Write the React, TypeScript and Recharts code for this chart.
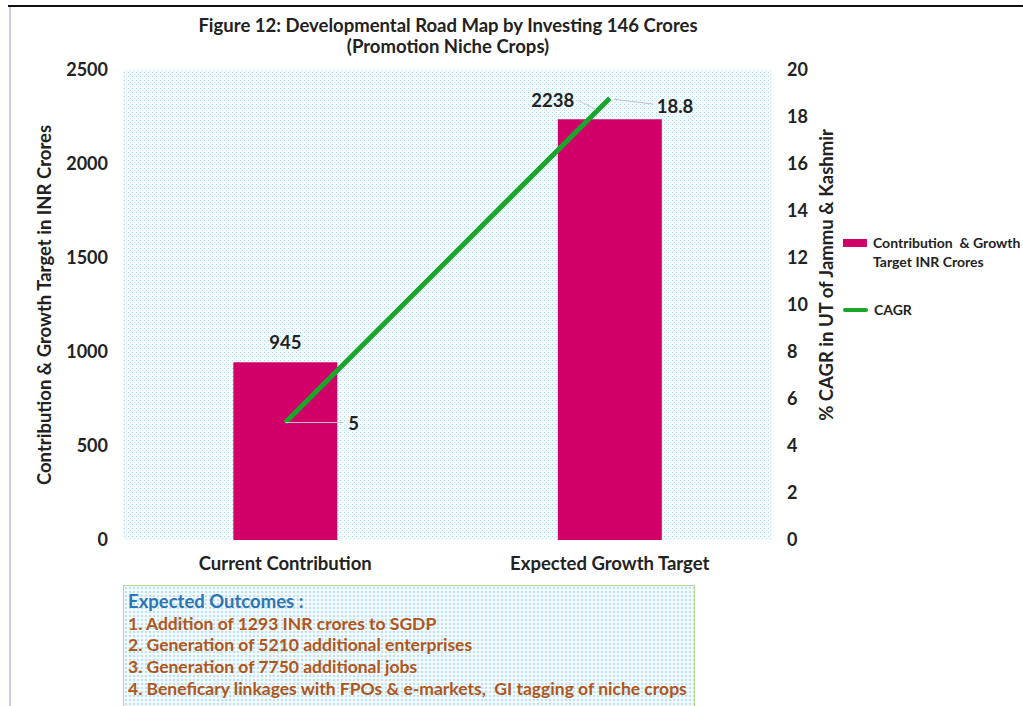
import React from "react";
import { ComposedChart, Bar, Line, XAxis, YAxis, CartesianGrid, LabelList } from "recharts";

const categories = ["Current Contribution", "Expected Growth Target"];
const contribution = [945, 2238];
const cagr = [5, 18.8];
const leftTicks = [0, 500, 1000, 1500, 2000, 2500];
const rightTicks = [0, 2, 4, 6, 8, 10, 12, 14, 16, 18, 20];
const outcomes = [
  "1. Addition of 1293 INR crores to SGDP",
  "2. Generation of 5210 additional enterprises",
  "3. Generation of 7750 additional jobs",
  "4. Beneficary linkages with FPOs & e-markets,  GI tagging of niche crops",
];

const data = categories.map((c, i) => ({ name: c, contribution: contribution[i], cagr: cagr[i] }));

const FONT = "Lato, 'Open Sans', sans-serif";
const BAR = "#d00068";
const GREEN = "#19a62a";

const BarLabel = (props: any) => {
  const { x, y, width, value, index } = props;
  const cx = x + width / 2;
  if (index === 0) {
    return (
      <text x={cx} y={y - 13} textAnchor="middle" fontFamily={FONT} fontWeight={700} fontSize={18.5} fill="#222">
        {value}
      </text>
    );
  }
  return (
    <g>
      <line x1={cx - 32} y1={y - 19} x2={cx - 14} y2={y - 10} stroke="#c8c8c8" strokeWidth={1} />
      <text x={cx - 57} y={y - 12} textAnchor="middle" fontFamily={FONT} fontWeight={700} fontSize={18.5} fill="#222">
        {value}
      </text>
    </g>
  );
};

const LineLabel = (props: any) => {
  const { x, y, value, index } = props;
  if (index === 0) {
    return (
      <g>
        <line x1={x} y1={y} x2={x + 58} y2={y} stroke="#c0c0c0" strokeWidth={1} />
        <text x={x + 63} y={y + 7} textAnchor="start" fontFamily={FONT} fontWeight={700} fontSize={18.5} fill="#222">
          {value}
        </text>
      </g>
    );
  }
  return (
    <g>
      <line x1={x + 4} y1={y + 1} x2={x + 44} y2={y + 6} stroke="#c0c0c0" strokeWidth={1} />
      <text x={x + 47} y={y + 15} textAnchor="start" fontFamily={FONT} fontWeight={700} fontSize={18.5} fill="#222">
        {value}
      </text>
    </g>
  );
};

export default function App() {
  const tickStyle = { fontFamily: FONT, fontWeight: 700, fontSize: 18, fill: "#222" };
  return (
    <div style={{ position: "absolute", left: 0, top: 0, width: 1023, height: 706, background: "#fff", overflow: "hidden", fontFamily: FONT }}>
      <div style={{ position: "absolute", left: 8, top: 5, width: 1015, height: 2, background: "#111" }} />
      <div style={{ position: "absolute", left: 9, top: 7, width: 2, height: 699, background: "#c9cde6" }} />
      <div style={{ position: "absolute", left: 98, width: 700, top: 15, textAlign: "center", fontWeight: 700, fontSize: 18.5, lineHeight: "21px", color: "#222" }}>
        <div>Figure 12: Developmental Road Map by Investing 146 Crores</div>
        <div>(Promotion Niche Crops)</div>
      </div>
      <ComposedChart
        width={1023}
        height={706}
        data={data}
        margin={{ top: 70, bottom: 136, left: 43, right: 191 }}
        barCategoryGap="34%"
      >
        <defs>
          <pattern id="dots" width="4" height="4" patternUnits="userSpaceOnUse">
            <rect width="4" height="4" fill="#f4fbfe" />
            <rect x="0" y="0" width="1" height="1" fill="#a9d9ec" />
            <rect x="2" y="2" width="1" height="1" fill="#cbe8f4" />
          </pattern>
        </defs>
        <CartesianGrid fill="url(#dots) #ecf7fb" stroke="#d3ecf6" strokeDasharray="1 2" horizontal={false} vertical={false} />
        <XAxis
          dataKey="name"
          height={30}
          axisLine={false}
          tickLine={false}
          tickSize={6}
          tickMargin={11}
          tick={{ ...tickStyle, fontSize: 18.5 }}
        />
        <YAxis
          yAxisId="left"
          domain={[0, 2500]}
          ticks={leftTicks}
          width={80}
          axisLine={false}
          tickLine={false}
          tickSize={13}
          tickMargin={2}
          tick={tickStyle}
          label={{
            value: "Contribution & Growth Target in INR Crores",
            angle: -90,
            position: "center",
            dx: -39,
            style: { fontFamily: FONT, fontWeight: 700, fontSize: 18.5, fill: "#222" },
          }}
        />
        <YAxis
          yAxisId="right"
          orientation="right"
          domain={[0, 20]}
          ticks={rightTicks}
          width={60}
          axisLine={false}
          tickLine={false}
          tickSize={13}
          tickMargin={2}
          tick={tickStyle}
          label={{
            value: "% CAGR in UT of Jammu & Kashmir",
            angle: -90,
            position: "center",
            dx: 24,
            dy: -30,
            style: { fontFamily: FONT, fontWeight: 700, fontSize: 18.5, fill: "#222" },
          }}
        />
        <Bar yAxisId="left" dataKey="contribution" fill={BAR} isAnimationActive={false}>
          <LabelList dataKey="contribution" content={BarLabel} />
        </Bar>
        <Line
          yAxisId="right"
          dataKey="cagr"
          stroke={GREEN}
          strokeWidth={5}
          dot={false}
          activeDot={false}
          isAnimationActive={false}
        >
          <LabelList dataKey="cagr" content={LineLabel} />
        </Line>
      </ComposedChart>
      <div style={{ position: "absolute", left: 843, top: 233, width: 180, fontWeight: 700, fontSize: 14, color: "#222" }}>
        <div style={{ display: "flex", alignItems: "flex-start" }}>
          <div style={{ width: 24, height: 8, background: BAR, marginTop: 6, marginRight: 6, flex: "none" }} />
          <div style={{ lineHeight: "19px", whiteSpace: "nowrap" }}>
            Contribution&nbsp; &amp; Growth
            <br />
            Target INR Crores
          </div>
        </div>
        <div style={{ display: "flex", alignItems: "center", marginTop: 29 }}>
          <div style={{ width: 25, height: 4, background: GREEN, borderRadius: 2, marginRight: 6, flex: "none" }} />
          <div style={{ lineHeight: "19px" }}>CAGR</div>
        </div>
      </div>
      <div
        style={{
          position: "absolute",
          left: 123,
          top: 585,
          width: 572,
          height: 125,
          border: "1px solid #b3d69a",
          backgroundColor: "#f2fafd",
          backgroundImage: "radial-gradient(#b6def0 0.7px, transparent 0.8px)",
          backgroundSize: "4px 4px",
          boxSizing: "border-box",
          padding: "5px 0 0 4px",
          fontWeight: 700,
          fontSize: 17.5,
          lineHeight: "21.7px",
        }}
      >
        <div style={{ color: "#2e75b6", fontSize: 18.5 }}>Expected Outcomes :</div>
        {outcomes.map((o) => (
          <div key={o} style={{ color: "#b0561a", whiteSpace: "pre" }}>
            {o}
          </div>
        ))}
      </div>
    </div>
  );
}
